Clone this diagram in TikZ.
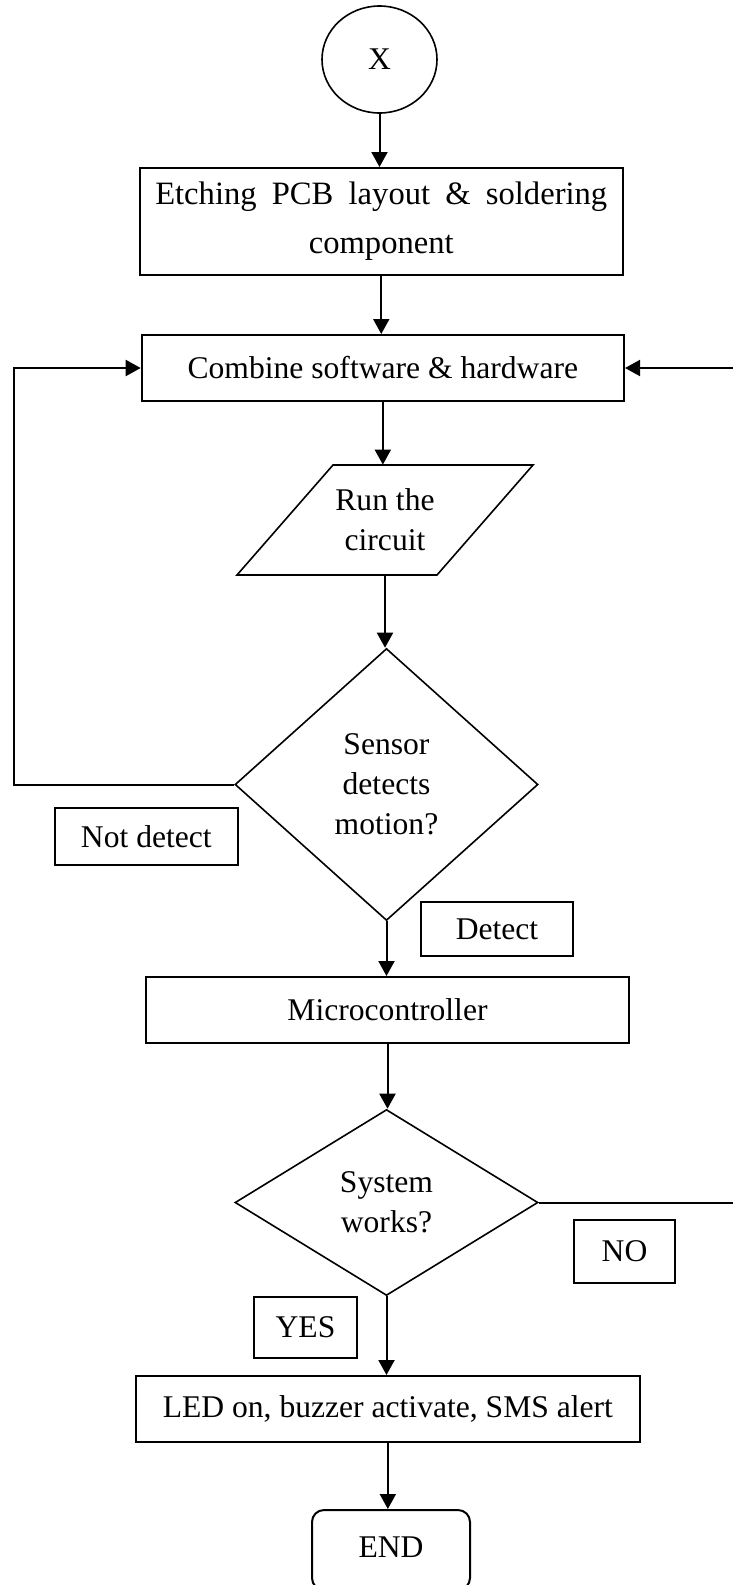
\documentclass[tikz,border=0pt]{standalone}
\usepackage{fontspec}
\setmainfont{Liberation Serif}
\usetikzlibrary{arrows.meta,shapes.geometric}
\begin{document}
\begin{tikzpicture}[x=0.5pt,y=-0.5pt,
  every node/.style={font=\fontsize{15.8}{20}\selectfont, inner sep=0pt, align=center},
  procbox/.style={draw, line width=1pt, rectangle},
  decision/.style={draw, line width=0.8pt, diamond},
  tagbox/.style={draw, line width=1pt, rectangle},
  arr/.style={line width=1pt, -{Triangle[length=7.5pt,width=8pt]}}]
\clip (0,0) rectangle (733,1585);
% nodes
\node[draw, line width=0.8pt, ellipse, minimum width=57.5pt, minimum height=53.5pt] (x) at (379.5,59.5) {X};
\node[procbox, minimum width=241.75pt, minimum height=53.5pt, font=\fontsize{16.3}{24.5}\selectfont] (etch) at (381.25,221.5) {\makebox[226pt][s]{Etching PCB layout \& soldering}\\component};
\node[procbox, minimum width=241.15pt, minimum height=33pt] (comb) at (382.85,368) {Combine software \& hardware};
\node[minimum width=148pt, minimum height=55pt] (run) at (385,520) {Run the\\circuit};
\draw[line width=0.8pt] (237,575) -- (333,465) -- (533,465) -- (437,575) -- cycle;
\node[decision, minimum width=151.5pt, minimum height=136pt] (sens) at (386.5,784.5) {Sensor\\detects\\motion?};
\node[tagbox, minimum width=91.35pt, minimum height=28.65pt] (nd) at (146.35,836.35) {Not detect};
\node[tagbox, minimum width=76pt, minimum height=27pt] (det) at (497,929) {Detect};
\node[procbox, minimum width=241.5pt, minimum height=33pt] (mc) at (387.5,1010) {Microcontroller};
\node[decision, minimum width=151.5pt, minimum height=93pt] (sys) at (386.5,1202.5) {System\\works?};
\node[tagbox, minimum width=50.5pt, minimum height=31.5pt] (no) at (624.5,1251.5) {NO};
\node[tagbox, minimum width=51.5pt, minimum height=30.5pt] (yes) at (305.5,1327.5) {YES};
\node[procbox, minimum width=252.15pt, minimum height=33pt] (led) at (387.85,1409) {LED on, buzzer activate, SMS alert};
\node[draw, line width=1pt, rounded corners=6pt, minimum width=79pt, minimum height=40pt] (end) at (391,1550) {\raisebox{2.5pt}{END}};
% helper coordinates
\coordinate (lx) at (14,0);
\coordinate (rx) at (734.5,0);
% connectors
\draw[arr] (x.south) -- (x.south |- etch.north);
\draw[arr] (etch.south) -- (etch.south |- comb.north);
\draw[arr] (comb.south) -- (comb.south |- run.north);
\draw[arr] (run.south) -- (run.south |- sens.north);
\draw[arr] (sens.south) -- (sens.south |- mc.north);
\draw[arr] (mc.south) -- (mc.south |- sys.north);
\draw[arr] (sys.south) -- (sys.south |- led.north);
\draw[arr] (led.south) -- (led.south |- end.north);
\draw[arr] (sens.west) -- (sens.west -| lx) |- (comb.west);
\draw[arr] (sys.east) -- (sys.east -| rx) |- (comb.east);
\end{tikzpicture}
\end{document}
